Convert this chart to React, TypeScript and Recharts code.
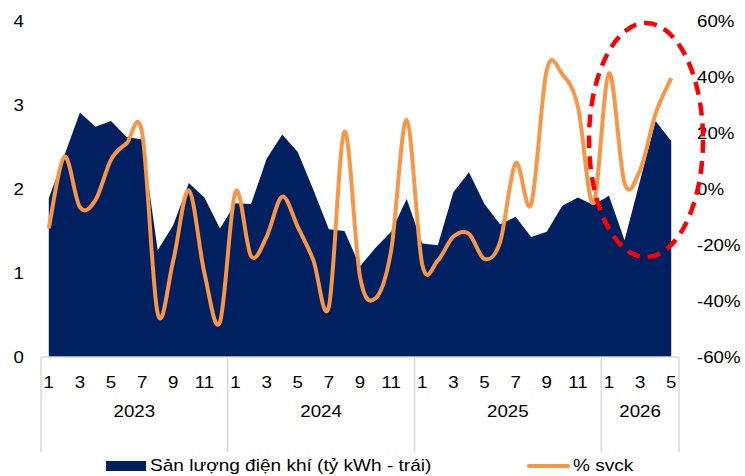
import React from 'react';
import { ComposedChart, Area, Line, XAxis, YAxis } from 'recharts';

// ---- data ----
const years = [2023, 2024, 2025, 2026];
const monthsInYear = [12, 12, 12, 5];
const production = [
  1.89, 2.40, 2.91, 2.74, 2.81, 2.62, 2.59, 1.27, 1.57, 2.07, 1.90, 1.53,
  1.83, 1.82, 2.36, 2.65, 2.44, 1.99, 1.52, 1.50, 1.08, 1.30, 1.49, 1.88,
  1.35, 1.33, 1.96, 2.20, 1.82, 1.58, 1.67, 1.43, 1.49, 1.80, 1.90, 1.81,
  1.92, 1.39, 2.10, 2.81, 2.57,
];
const yoy = [
  -14, 11.5, -6.5, -4, 10.5, 16.3, 20, -44.5, -25.5, -0.5, -30, -47.5,
  -1, -24, -17, -2.7, -13.5, -25.4, -42, 20.5, -31.3, -39, -22, 24.6,
  -27, -25.5, -17, -16, -25, -19, 9.2, -5.4, 42.5, 41, 29.5, -5,
  41.3, 2.1, 6.8, 27, 39.6,
];
const leftTicks = [0, 1, 2, 3, 4];
const rightTicks = [-60, -40, -20, 0, 20, 40, 60];
const seriesNames = ['Sản lượng điện khí (tỷ kWh - trái)', '% svck'];

type Row = { key: string; year: number; month: number; yi: number; prod: number; yoy: number };
const data: Row[] = [];
{
  let k = 0;
  years.forEach((yr, yi) => {
    for (let m = 1; m <= monthsInYear[yi]; m++) {
      data.push({ key: `${yr}-${m}`, year: yr, month: m, yi, prod: production[k], yoy: yoy[k] });
      k++;
    }
  });
}

// ---- layout ----
const W = 745;
const H = 476;
const PLOT_LEFT = 41;
const PLOT_RIGHT = 679;
const PLOT_TOP = 21;
const PLOT_BOTTOM = 357;
const N = data.length;
const BW = (PLOT_RIGHT - PLOT_LEFT) / N;

const NAVY = '#002060';
const ORANGE = '#F79646';
const FONT = '"Liberation Sans", Arial, sans-serif';
const SX = 1.1;
const LEGEND_SX = 1.12;

// Excel-like smoothed line (Catmull-Rom style Bezier)
function excelCurve(context: any) {
  let pts: number[][] = [];
  return {
    areaStart() {},
    areaEnd() {},
    lineStart() {
      pts = [];
    },
    point(x: number, y: number) {
      pts.push([+x, +y]);
    },
    lineEnd() {
      const n = pts.length;
      if (!n) return;
      context.moveTo(pts[0][0], pts[0][1]);
      const t = 1 / 6;
      for (let i = 0; i < n - 1; i++) {
        const p0 = pts[i === 0 ? 0 : i - 1];
        const p1 = pts[i];
        const p2 = pts[i + 1];
        const p3 = pts[i + 2 < n ? i + 2 : n - 1];
        context.bezierCurveTo(
          p1[0] + (p2[0] - p0[0]) * t,
          p1[1] + (p2[1] - p0[1]) * t,
          p2[0] - (p3[0] - p1[0]) * t,
          p2[1] - (p3[1] - p1[1]) * t,
          p2[0],
          p2[1]
        );
      }
    },
  };
}

const SText = ({ x, y, anchor, children }: any) => (
  <text
    transform={`translate(${x},${y}) scale(${SX},1)`}
    x={0}
    y={0}
    dy="0.35em"
    textAnchor={anchor}
    fontSize={17}
    fontFamily={FONT}
    fill="#000"
  >
    {children}
  </text>
);

const MonthTick = (props: any) => {
  const { x, y, payload } = props;
  const i = props.index ?? payload.index;
  const d = data[i];
  if (!d) return null;
  const els: any[] = [];
  if (d.month % 2 === 1) {
    els.push(
      <SText key="m" x={x} y={y + 25} anchor="middle">
        {d.month}
      </SText>
    );
  }
  if (d.month === 1) {
    const left = x - BW / 2;
    els.push(<line key="s" x1={left} x2={left} y1={y} y2={y + 95} stroke="#D9D9D9" strokeWidth={1.5} />);
    els.push(
      <SText key="y" x={left + (monthsInYear[d.yi] * BW) / 2} y={y + 54} anchor="middle">
        {d.year}
      </SText>
    );
  }
  if (i === N - 1) {
    const right = x + BW / 2;
    els.push(<line key="e" x1={right} x2={right} y1={y} y2={y + 95} stroke="#D9D9D9" strokeWidth={1.5} />);
  }
  return <g>{els}</g>;
};

const LeftTick = (props: any) => (
  <SText x={props.x} y={props.y} anchor="end">
    {props.payload.value}
  </SText>
);
const RightTick = (props: any) => (
  <SText x={props.x} y={props.y} anchor="start">
    {`${props.payload.value}%`}
  </SText>
);

export default function App() {
  return (
    <div style={{ position: 'absolute', left: 0, top: 0, width: W, height: H, background: '#fff' }}>
      <ComposedChart
        width={W}
        height={H}
        data={data}
        margin={{ top: PLOT_TOP, right: 0, bottom: 0, left: 0 }}
      >
        <XAxis
          dataKey="key"
          xAxisId="x"
          interval={0}
          tickSize={0}
          tickMargin={0}
          padding={{ left: BW / 2, right: BW / 2 }}
          tick={<MonthTick />}
          axisLine={{ stroke: '#D9D9D9', strokeWidth: 1.5 }}
          tickLine={false}
          height={H - PLOT_BOTTOM}
        />
        <YAxis
          yAxisId="left"
          orientation="left"
          domain={[0, 4]}
          ticks={leftTicks}
          width={PLOT_LEFT}
          tickSize={0}
          tickMargin={17}
          axisLine={false}
          tickLine={false}
          tick={<LeftTick />}
          allowDataOverflow
        />
        <YAxis
          yAxisId="right"
          orientation="right"
          domain={[-60, 60]}
          ticks={rightTicks}
          width={W - PLOT_RIGHT}
          tickSize={0}
          tickMargin={18}
          axisLine={false}
          tickLine={false}
          tick={<RightTick />}
          allowDataOverflow
        />
        <Area
          xAxisId="x"
          yAxisId="left"
          type="linear"
          dataKey="prod"
          name={seriesNames[0]}
          fill={NAVY}
          fillOpacity={1}
          stroke="none"
          isAnimationActive={false}
        />
        <Line
          xAxisId="x"
          yAxisId="right"
          type={excelCurve as any}
          dataKey="yoy"
          name={seriesNames[1]}
          stroke={ORANGE}
          strokeWidth={4}
          dot={false}
          activeDot={false}
          isAnimationActive={false}
        />
      </ComposedChart>
      <svg
        width={W}
        height={H}
        style={{ position: 'absolute', left: 0, top: 0, pointerEvents: 'none' }}
      >
        <ellipse
          cx={646}
          cy={140}
          rx={57}
          ry={117}
          fill="none"
          stroke="#FF0000"
          strokeWidth={4.5}
          strokeDasharray="13 8"
        />
      </svg>
      <div style={{ position: 'absolute', left: 0, top: 0, width: W, height: H, pointerEvents: 'none', fontFamily: FONT, fontSize: 17, color: '#000' }}>
        <div style={{ position: 'absolute', left: 106, top: 461, width: 40, height: 10, background: NAVY }} />
        <div style={{ position: 'absolute', left: 150, top: 456, whiteSpace: 'nowrap', lineHeight: '20px', transform: `scaleX(${LEGEND_SX})`, transformOrigin: 'left center' }}>
          {seriesNames[0]}
        </div>
        <div style={{ position: 'absolute', left: 527, top: 464, width: 43, height: 4, borderRadius: 2, background: ORANGE }} />
        <div style={{ position: 'absolute', left: 573, top: 456, whiteSpace: 'nowrap', lineHeight: '20px', transform: `scaleX(${LEGEND_SX})`, transformOrigin: 'left center' }}>
          {seriesNames[1]}
        </div>
      </div>
    </div>
  );
}
